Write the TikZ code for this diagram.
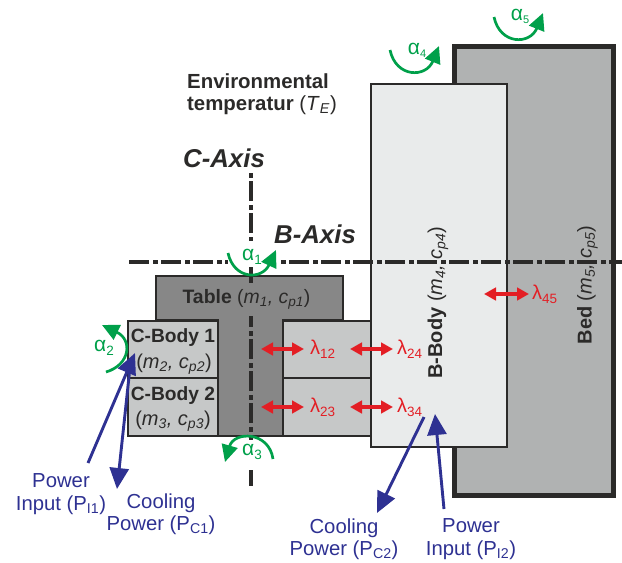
\documentclass[tikz,border=0pt]{standalone}
\usepackage{fontspec}
\setmainfont{Liberation Sans}
\usetikzlibrary{arrows.meta}
\definecolor{ol}{HTML}{2B2A29}
\definecolor{tablec}{HTML}{878787}
\definecolor{cbody}{HTML}{C6C8C8}
\definecolor{bbody}{HTML}{E9EBEB}
\definecolor{bedc}{HTML}{B0B2B2}
\definecolor{redc}{HTML}{E31E24}
\definecolor{greenc}{HTML}{00A04A}
\definecolor{bluec}{HTML}{2E3192}
\newcommand{\fs}[1]{\fontsize{#1}{#1}\selectfont}
\newcommand{\sbs}[1]{\textsubscript{#1}}
\newcommand{\gs}[1]{\raisebox{-4pt}{\fs{13.5}#1}}
\newcommand{\gt}[1]{\raisebox{-3pt}{\fs{11}#1}}
\tikzset{
  x=1pt,y=-1pt,
  part/.style={draw=ol,line width=2.4pt,line join=miter},
  axisline/.style={draw=ol,line width=4.4pt},
  axdash/.style={axisline,dash pattern=on 20pt off 4pt on 5pt off 3pt},
  heat/.style={draw=redc,line width=3.8pt,{Triangle[length=12pt,width=12.5pt]}-{Triangle[length=12pt,width=12.5pt]}},
  rot/.style={draw=greenc,line width=2.7pt,-{Triangle[length=17pt,width=16pt]}},
  power/.style={draw=bluec,line width=2.9pt,-{Triangle[length=21pt,width=19pt]}},
  plab/.style={text=bluec,font=\fs{20.3},align=center,inner sep=0pt},
  bodylab/.style={text=ol,font=\fs{20},align=center,inner sep=0pt},
  axlab/.style={text=ol,font=\fs{25.8}\bfseries\itshape,inner sep=0pt},
  lam/.style={text=redc,font=\fs{20},inner sep=0pt,anchor=west},
  alab/.style={text=greenc,font=\fs{21},inner sep=0pt},
}
\begin{document}
\begin{tikzpicture}
\useasboundingbox (0,0) rectangle (622,563);
% bodies
\path[fill=bedc,draw=ol,line width=5pt] (454,46) rectangle (613,495);
\path[part,fill=tablec] (156,276) -- (343,276) -- (343,320) -- (283,320) -- (283,436) -- (218,436) -- (218,320) -- (156,320) -- cycle;
\path[part,fill=cbody] (128,321) rectangle (218,378);
\path[part,fill=cbody] (128,378) rectangle (218,436);
\path[part,fill=cbody] (283,321) rectangle (371,378);
\path[part,fill=cbody] (283,378) rectangle (371,436);
\path[part,fill=bbody] (371,84) rectangle (507,447);
% axes
\coordinate (hs) at (129,262); \coordinate (hm1) at (228,262);
\coordinate (hm2) at (280,262); \coordinate (he) at (622,262);
\coordinate (vs) at (251,173); \coordinate (vm1) at (251,241);
\coordinate (vm2) at (251,267); \coordinate (vm3) at (251,283);
\coordinate (vm4) at (251,316); \coordinate (vm5) at (251,440);
\coordinate (vm6) at (251,470); \coordinate (ve) at (251,486);
\draw[axdash] (hs) -- (hm1);
\draw[axdash,dash phase=23pt] (hm2) -- (he);
\draw[axisline,dash pattern=on 5pt off 3pt on 20pt off 4pt] (vs) -- (vm1);
\draw[axisline] (vm2) -- (vm3);
\draw[axdash,dash phase=9pt] (vm4) -- (vm5);
\draw[axisline] (vm6) -- (ve);
% text
\node[bodylab,font=\fs{20.4}\bfseries,align=left,anchor=west] (env) at (187,94) {Environmental\\[2pt]temperatur \textmd{(\textit{T}\sbs{\textit{E}})}};
\node[axlab] (caxis) at (224,158) {C-Axis};
\node[axlab] (baxis) at (315,234) {B-Axis};
\node[bodylab,font=\fs{19.4}] (table) at (246.5,299) {\bfseries Table \textmd{(\textit{m\sbs{1}, c\sbs{p1}})}};
\node[bodylab,font=\fs{19.2}] (c1) at (173,338) {\bfseries C-Body 1};
\node[bodylab] (c1b) at (174,364) {(\textit{m\sbs{2}, c\sbs{p2}})};
\node[bodylab,font=\fs{19.2}] (c2) at (173,396) {\bfseries C-Body 2};
\node[bodylab] (c2b) at (173,421) {(\textit{m\sbs{3}, c\sbs{p3}})};
\node[bodylab,rotate=90] (bb) at (438,302.5) {\bfseries B-Body \textmd{(\textit{m\sbs{4}, c\sbs{p4}})}};
\node[bodylab,rotate=90] (bed) at (587.5,285) {\bfseries Bed \textmd{(\textit{m\sbs{5}, c\sbs{p5}})}};
% heat
\coordinate (h1a) at (261,349); \coordinate (h1b) at (304,349);
\coordinate (h2a) at (350,349); \coordinate (h2b) at (393,349);
\coordinate (h3a) at (261,407); \coordinate (h3b) at (304,407);
\coordinate (h4a) at (350,407); \coordinate (h4b) at (393,407);
\coordinate (h5a) at (484,294); \coordinate (h5b) at (529,294);
\draw[heat] (h1a) -- (h1b); \draw[heat] (h2a) -- (h2b);
\draw[heat] (h3a) -- (h3b); \draw[heat] (h4a) -- (h4b);
\draw[heat] (h5a) -- (h5b);
\node[lam] (l12) at (310,349) {λ\gs{12}};
\node[lam] (l24) at (397,349) {λ\gs{24}};
\node[lam] (l23) at (310,407) {λ\gs{23}};
\node[lam] (l34) at (397,407) {λ\gs{34}};
\node[lam] (l45) at (532,294) {λ\gs{45}};
% rotation
\coordinate (a1s) at (228,253); \coordinate (a1e) at (276,250);
\coordinate (a2s) at (106,372); \coordinate (a2e) at (102,325);
\coordinate (a3s) at (273,459); \coordinate (a3e) at (225,462);
\coordinate (a4s) at (390,50); \coordinate (a4e) at (439,46);
\coordinate (a5s) at (494,17); \coordinate (a5e) at (543,13);
\draw[rot] (a1s) .. controls (234,280) and (262,280) .. (a1e);
\draw[rot] (a2s) .. controls (130,365) and (133,340) .. (a2e);
\draw[rot] (a3s) .. controls (269,431) and (234,431) .. (a3e);
\draw[rot] (a4s) .. controls (396,78) and (426,78) .. (a4e);
\draw[rot] (a5s) .. controls (500,45) and (530,45) .. (a5e);
\node[alab] (al1) at (252,257) {α\gs{1}};
\node[alab] (al2) at (104,348) {α\gs{2}};
\node[alab] (al3) at (252,452) {α\gs{3}};
\node[alab] (al4) at (417,50) {α\gt{4}};
\node[alab] (al5) at (520,16) {α\gt{5}};
% power
\coordinate (p1s) at (88,463); \coordinate (p1e) at (135,353);
\coordinate (p2s) at (131,358); \coordinate (p2e) at (117,489);
\coordinate (p3s) at (424,417); \coordinate (p3e) at (377,513);
\coordinate (p4s) at (444,509); \coordinate (p4e) at (435,414);
\draw[power] (p1s) -- (p1e);
\draw[power] (p2s) -- (p2e);
\draw[power] (p3s) -- (p3e);
\draw[power] (p4s) -- (p4e);
\node[plab] (pi1) at (61,494) {Power\\[2pt]Input (P\sbs{I1})};
\node[plab] (pc1) at (161,514) {Cooling\\[2pt]Power (P\sbs{C1})};
\node[plab] (pc2) at (344,539) {Cooling\\[2pt]Power (P\sbs{C2})};
\node[plab] (pi2) at (471,539) {Power\\[2pt]Input (P\sbs{I2})};
\end{tikzpicture}
\end{document}
